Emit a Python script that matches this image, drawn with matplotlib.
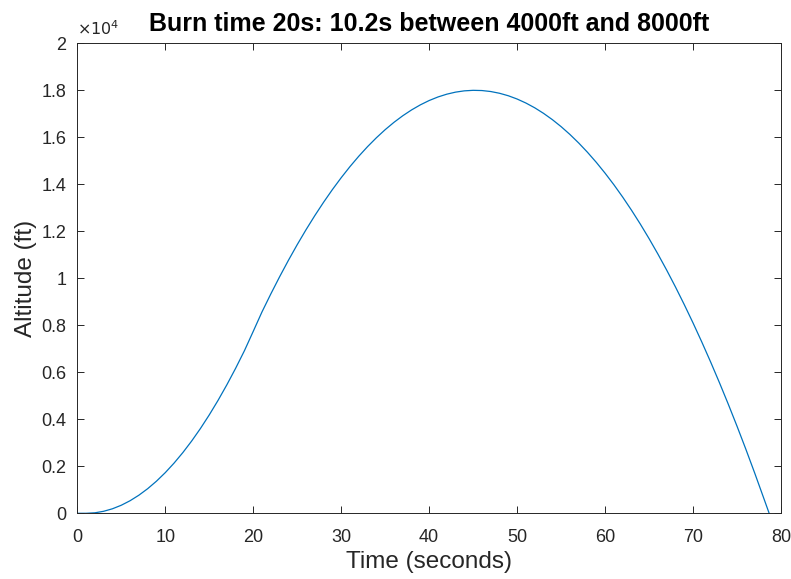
import matplotlib.pyplot as plt
from matplotlib.ticker import FuncFormatter

# altitude (ft), one value per second
time_s = [0, 1, 2, 3, 4, 5, 6, 7, 8, 9, 10, 11, 12, 13, 14, 15, 16, 17, 18, 19,
          20, 21, 22, 23, 24, 25, 26, 27, 28, 29, 30, 31, 32, 33, 34, 35, 36, 37,
          38, 39, 40, 41, 42, 43, 44, 45, 46, 47, 48, 49, 50, 51, 52, 53, 54, 55,
          56, 57, 58, 59, 60, 61, 62, 63, 64, 65, 66, 67, 68, 69, 70, 71, 72, 73,
          74, 75, 76, 77, 78, 78.65]
altitude_ft = [0, 0, 20, 85, 192, 342, 534, 769, 1046, 1366, 1729, 2135, 2583,
               3074, 3608, 4185, 4804, 5466, 6170, 6918, 7740, 8572, 9334, 10065,
               10764, 11431, 12065, 12667, 13237, 13775, 14280, 14754, 15195,
               15604, 15980, 16325, 16637, 16917, 17165, 17381, 17565, 17716,
               17835, 17922, 17977, 17999, 17990, 17948, 17874, 17768, 17629,
               17458, 17256, 17020, 16753, 16454, 16122, 15758, 15362, 14934,
               14473, 13981, 13456, 12899, 12310, 11688, 11034, 10349, 9631, 8880,
               8098, 7283, 6436, 5557, 4646, 3703, 2727, 1719, 679, 0]

x_ticks = [0, 10, 20, 30, 40, 50, 60, 70, 80]
y_ticks = [0, 2000, 4000, 6000, 8000, 10000, 12000, 14000, 16000, 18000, 20000]

plt.rcParams['font.family'] = ['Liberation Sans', 'DejaVu Sans']
grey = '#262626'

fig = plt.figure(figsize=(7.91, 5.79), dpi=100)
ax = fig.add_axes([0.0977, 0.1135, 0.8897, 0.8117])
ax.plot(time_s, altitude_ft, color='#0072BD', lw=0.9)

ax.set_xlim(0, 80)
ax.set_ylim(0, 20000)
ax.set_xticks(x_ticks)
ax.set_yticks(y_ticks)
ax.yaxis.set_major_formatter(FuncFormatter(lambda v, p: '%g' % (v / 1e4)))
ax.tick_params(direction='in', length=5, width=0.7, colors=grey, labelsize=13,
               top=True, right=True)
ax.tick_params(axis='x', pad=11)
ax.tick_params(axis='y', pad=8)
for s in ax.spines.values():
    s.set_color(grey)
    s.set_linewidth(0.7)

ax.set_xlabel('Time (seconds)', fontsize=17.5, color=grey, labelpad=4)
ax.set_ylabel('Altitude (ft)', fontsize=17.5, color=grey, labelpad=3)
ax.set_title('Burn time 20s: 10.2s between 4000ft and 8000ft', fontsize=18,
             fontweight='bold', pad=9)
ax.text(0.0, 1.012, r'$\times10^{4}$', transform=ax.transAxes, fontsize=11.5,
        color=grey, ha='left', va='bottom')

fig.savefig('out.png', dpi=100)
